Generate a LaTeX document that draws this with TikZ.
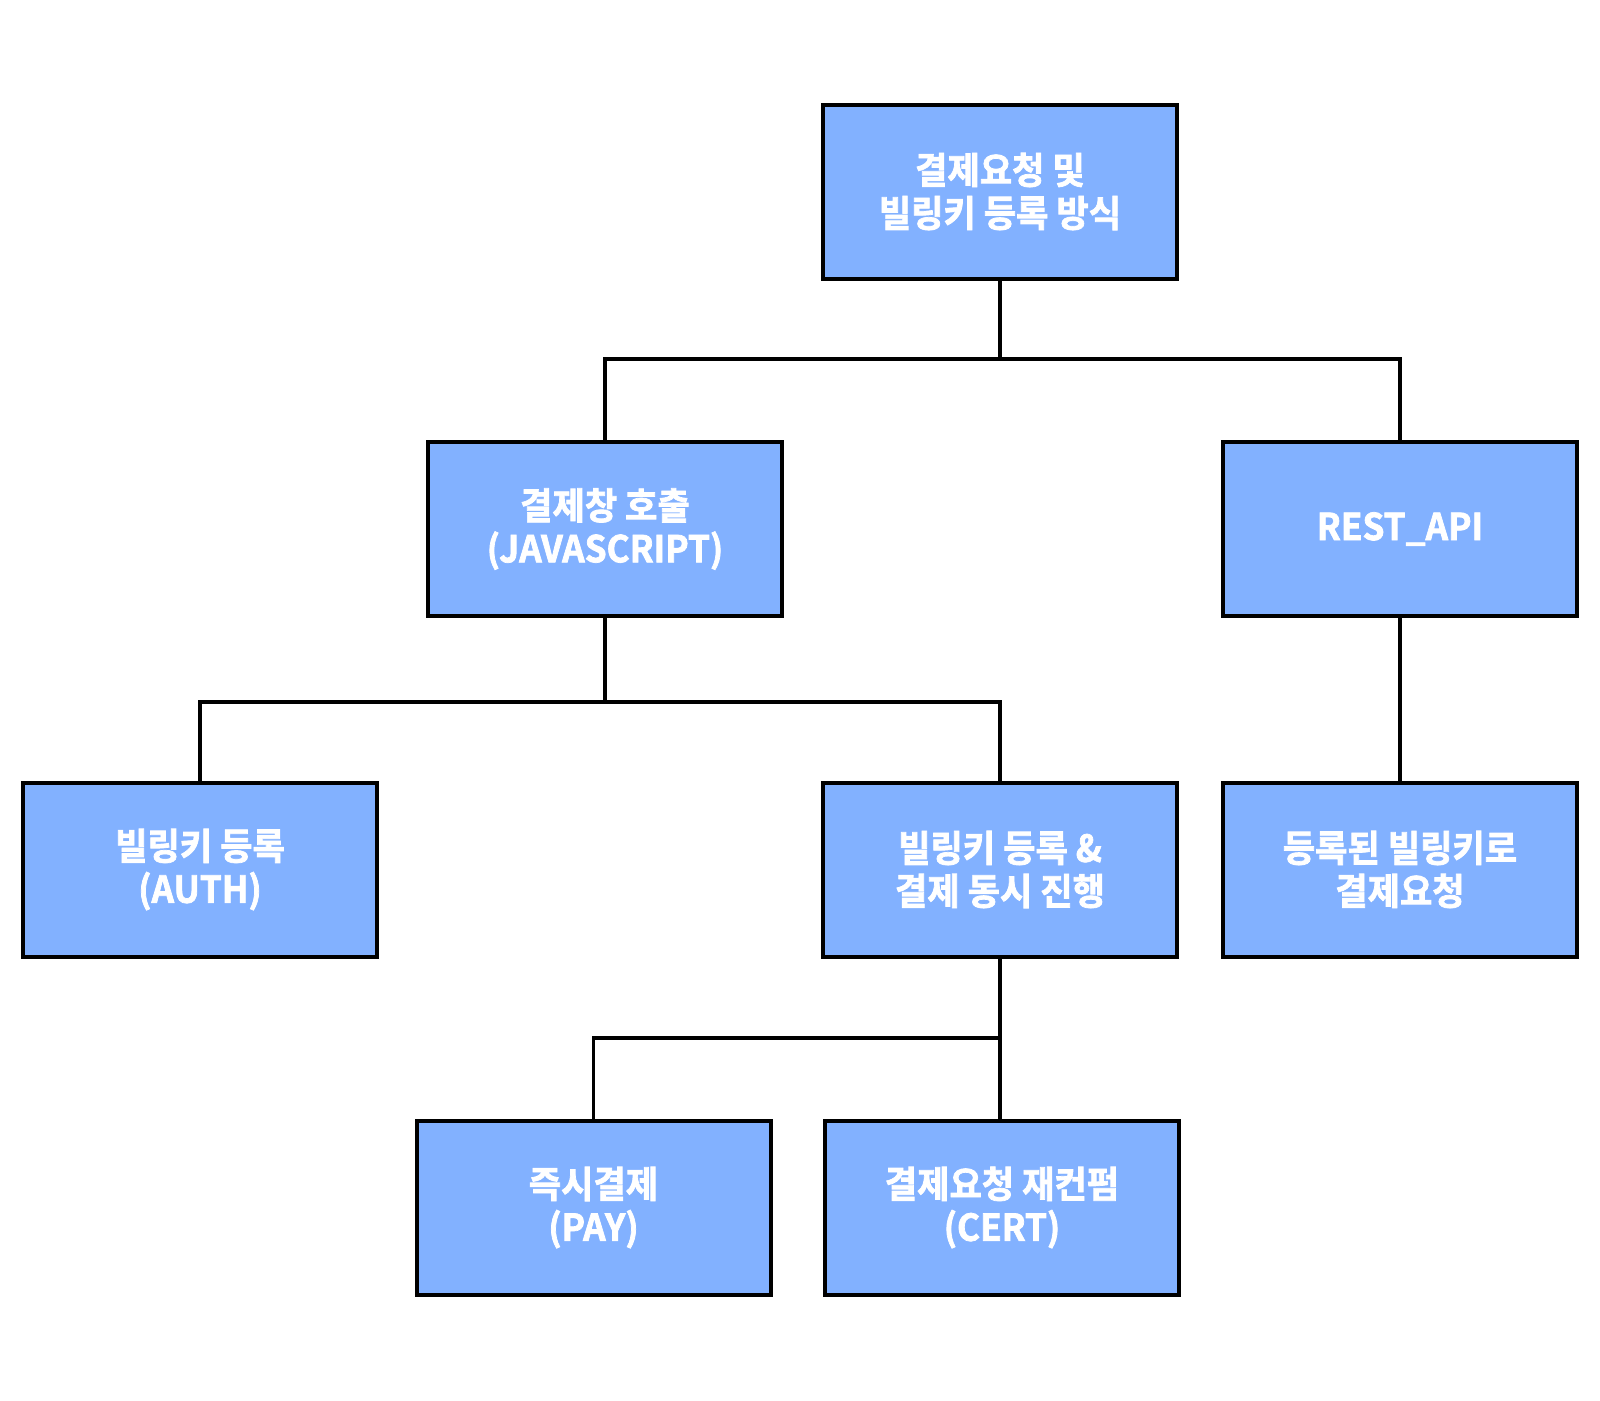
\documentclass[tikz,border=0pt]{standalone}
\usepackage{fontspec}
\newfontfamily\kr{Noto Sans CJK KR}[BoldFont={Noto Sans CJK KR Bold}, BoldFeatures={FakeBold=2}, FakeStretch=0.95]
\definecolor{boxblue}{HTML}{82B1FF}
\begin{document}
\begin{tikzpicture}[x=1pt,y=-1pt,
  box/.style={draw=black, line width=4pt, fill=boxblue, minimum width=354pt, minimum height=174pt,
    inner sep=0pt, align=center, text=white, font=\kr\bfseries\fontsize{37}{43}\selectfont},
  conn/.style={draw=black, line width=3.5pt}]
\useasboundingbox (0,0) rectangle (1600,1400);
\node[box] (root) at (1000,191.5) {결제요청 및\\빌링키 등록 방식};
\node[box] (js) at (605,529) {결제창 호출\\(JAVASCRIPT)};
\node[box] (rest) at (1400,529) {REST\_API};
\node[box] (auth) at (200,869.5) {빌링키 등록\\(AUTH)};
\node[box] (both) at (1000,869.5) {빌링키 등록 \&\\결제 동시 진행};
\node[box] (reg) at (1400,869.5) {등록된 빌링키로\\결제요청};
\node[box] (pay) at (593.5,1207.5) {즉시결제\\(PAY)};
\node[box] (cert) at (1002,1207.5) {결제요청 재컨펌\\(CERT)};
\coordinate (b1) at (0,359);
\coordinate (b2) at (0,702);
\coordinate (b3) at (0,1038);
\draw[conn] (root.south) -- (root.south |- b1);
\draw[conn] (js.north) -- (js.north |- b1) -- (rest.north |- b1) -- (rest.north);
\draw[conn] (js.south) -- (js.south |- b2);
\draw[conn] (auth.north) -- (auth.north |- b2) -- (both.north |- b2) -- (both.north);
\draw[conn] (both.south) -- (both.south |- cert.north);
\draw[conn] (pay.north) -- (pay.north |- b3) -- (both.south |- b3);
\draw[conn] (rest.south) -- (reg.north);
\end{tikzpicture}
\end{document}
